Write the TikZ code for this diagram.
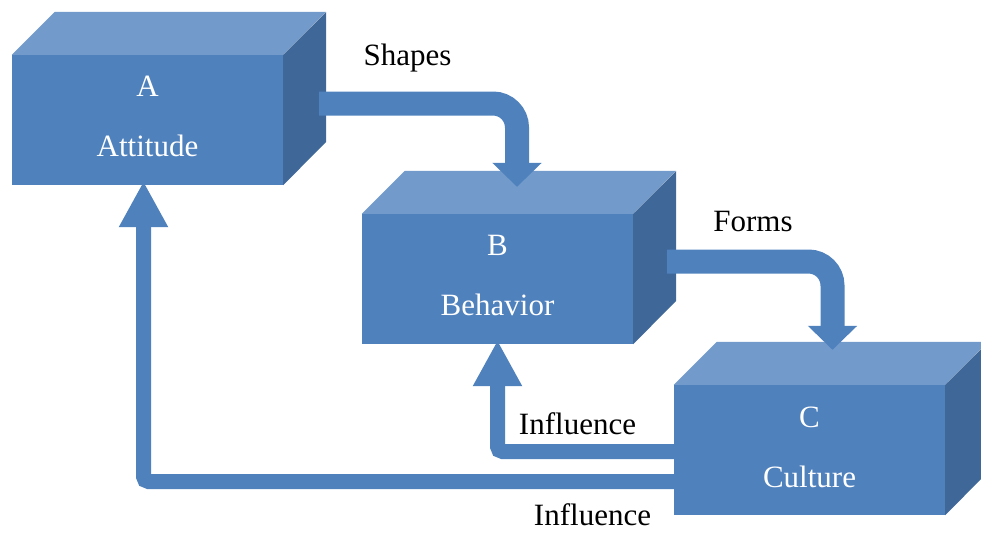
\documentclass[tikz,border=0pt]{standalone}
\usepackage{fontspec}
\setmainfont{Liberation Serif}
\usetikzlibrary{arrows.meta}
\usetikzlibrary{calc}

\definecolor{frontblue}{HTML}{4F81BD}
\definecolor{topblue}{HTML}{729ACB}
\definecolor{sideblue}{HTML}{3F6899}

\tikzset{
  cubefront/.style={rectangle, fill=frontblue, minimum width=271pt, minimum height=130pt,
    inner sep=0pt, text=white, align=center, font=\fontsize{31}{60}\selectfont},
  topface/.style={fill=topblue},
  sideface/.style={fill=sideblue},
  bigflow/.style={draw=frontblue, line width=24pt, rounded corners=24pt,
    -{Triangle[width=48pt,length=24pt]}},
  backflow/.style={draw=frontblue, line width=15pt, rounded corners=5pt,
    -{Triangle[width=46pt,length=46pt]}},
  lbl/.style={anchor=base, inner sep=0pt, font=\fontsize{31}{37}\selectfont},
}

% name, centre, letter, word
\newcommand{\drawcube}[4]{%
  \node[cubefront] (#1) at (#2) {#3\\#4\rule[-6.5pt]{0pt}{6.5pt}};
  \fill[topface] (#1.north west) -- ++(43,-43) -- ++(271,0) -- (#1.north east) -- cycle;
  \fill[sideface] (#1.north east) -- ++(43,-43) -- ++(0,130) -- (#1.south east) -- cycle;
}

\begin{document}
\begin{tikzpicture}[x=1pt,y=-1pt]
    \useasboundingbox (0,0) rectangle (981,533);
    \clip (0,0) rectangle (981,533);

    % boxes
    \drawcube{a}{147.5,120}{A}{Attitude}
    \drawcube{b}{497.5,279}{B}{Behavior}
    \drawcube{c}{809.5,450}{C}{Culture}

    % A shapes B
    \coordinate (shapesFrom) at ($(a.east)+(36,-16.5)$);
    \draw[bigflow] (shapesFrom) -| ($(b.north)+(19.5,-27)$);
    \node[lbl] (shapesTxt) at (407.5,65) {Shapes};

    % B forms C
    \coordinate (formsFrom) at ($(b.east)+(34,-17.5)$);
    \draw[bigflow] (formsFrom) -| ($(c.north)+(23,-35)$);
    \node[lbl] (formsTxt) at (753,231) {Forms};

    % C influences B and A
    \draw[backflow] ($(c.west)+(0,1.5)$) -| ($(b.south)+(0,-4)$);
    \node[lbl] (inflB) at (577.5,434) {Influence};
    \draw[backflow] ($(c.west)+(0,31.5)$) -| ($(a.south)+(-4,-4)$);
    \node[lbl] (inflA) at (592.5,525) {Influence};
\end{tikzpicture}
\end{document}
